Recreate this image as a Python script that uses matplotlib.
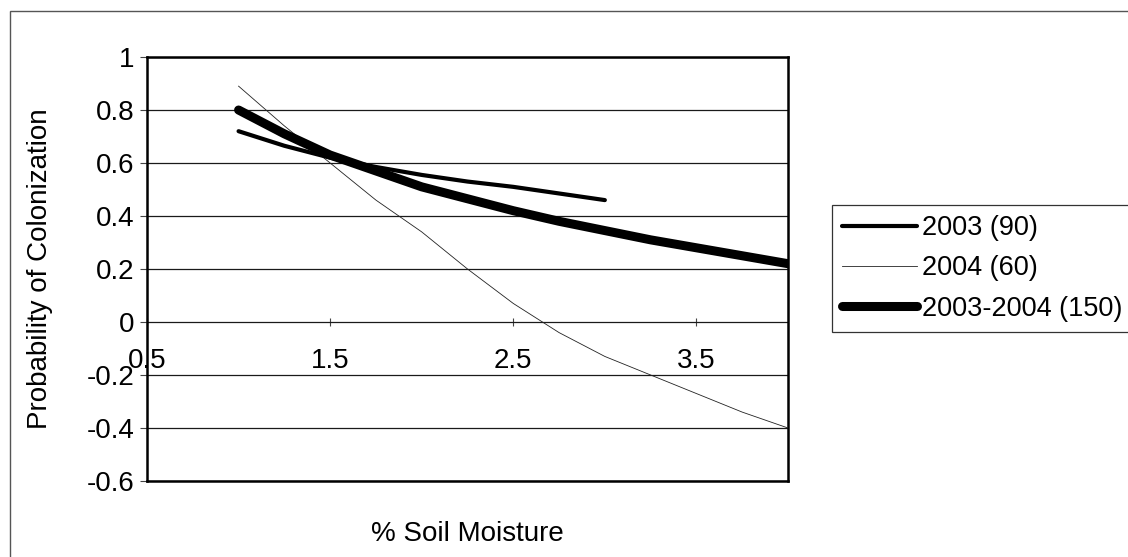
import matplotlib
matplotlib.use("Agg")
import matplotlib.pyplot as plt
from matplotlib.patches import Rectangle
from matplotlib.ticker import FixedLocator, FuncFormatter

plt.rcParams['font.family'] = ['Liberation Sans', 'DejaVu Sans']

# Soil moisture (%) and fitted probability of colonization
moisture = [1.0, 1.25, 1.5, 1.75, 2.0, 2.25, 2.5, 2.75, 3.0, 3.25, 3.5, 3.75, 4.0]
p_2003 = [0.72, 0.665, 0.62, 0.585, 0.555, 0.53, 0.51, 0.485, 0.46]
p_2004 = [0.89, 0.74, 0.60, 0.46, 0.34, 0.20, 0.07, -0.04, -0.13, -0.20, -0.27, -0.34, -0.40]
p_both = [0.80, 0.71, 0.63, 0.57, 0.51, 0.465, 0.42, 0.38, 0.345, 0.31, 0.28, 0.25, 0.22]

series_labels = ["2003 (90)", "2004 (60)", "2003-2004 (150)"]
x_ticks = [0.5, 1.5, 2.5, 3.5]
y_ticks = [-0.6, -0.4, -0.2, 0, 0.2, 0.4, 0.6, 0.8, 1]

FS = 20
W, H = 1128, 557
fig = plt.figure(figsize=(W / 100, H / 100), dpi=100)
ax = fig.add_axes([147 / W, 76 / H, 641 / W, 424 / H])

ax.set_xlim(0.5, 4.0)
ax.set_ylim(-0.6, 1.0)

l1, = ax.plot(moisture[:len(p_2003)], p_2003, color='black', lw=3.0,
              solid_capstyle='round', zorder=4)
l2, = ax.plot(moisture, p_2004, color='#222222', lw=0.6, zorder=3)
l3, = ax.plot(moisture, p_both, color='black', lw=6.5,
              solid_capstyle='round', zorder=5)

# horizontal gridlines
ax.yaxis.set_major_locator(FixedLocator(y_ticks))
ax.yaxis.set_major_formatter(FuncFormatter(lambda v, _: f"{v:g}"))
ax.grid(axis='y', color='#1a1a1a', lw=0.9)
ax.set_axisbelow(True)
ax.tick_params(axis='y', direction='out', length=5, width=0.8,
               labelsize=FS, pad=4, color='#444')

# category axis drawn at y = 0, labels hanging below the zero line
ax.set_xticks([])
sec = ax.secondary_xaxis(0.375)
sec.set_xticks(x_ticks)
sec.xaxis.set_major_formatter(FuncFormatter(lambda v, _: f"{v:g}"))
sec.spines['bottom'].set_visible(False)
sec.tick_params(axis='x', direction='inout', length=6, width=0.8,
                labelsize=FS, pad=16, color='#444')

for s in ax.spines.values():
    s.set_linewidth(1.8)
    s.set_color('black')

ax.set_ylabel("Probability of Colonization", fontsize=FS, labelpad=24)
ax.set_xlabel("% Soil Moisture", fontsize=FS, labelpad=29)

leg = fig.legend([l1, l2, l3], series_labels, loc='upper left',
                 bbox_to_anchor=(832 / W, 1 - 205 / H), fontsize=19.5,
                 frameon=True, fancybox=False, edgecolor='black',
                 handlelength=2.75, handletextpad=0.2, labelspacing=0.53,
                 borderpad=0.37, borderaxespad=0)
leg.get_frame().set_linewidth(0.9)

# outer chart frame
fig.patches.append(Rectangle((10 / W, -0.1), 1.2, 1.1 - 11 / H,
                             transform=fig.transFigure, fill=False,
                             edgecolor='#555555', lw=1.0))

fig.savefig("out.png", dpi=100)
